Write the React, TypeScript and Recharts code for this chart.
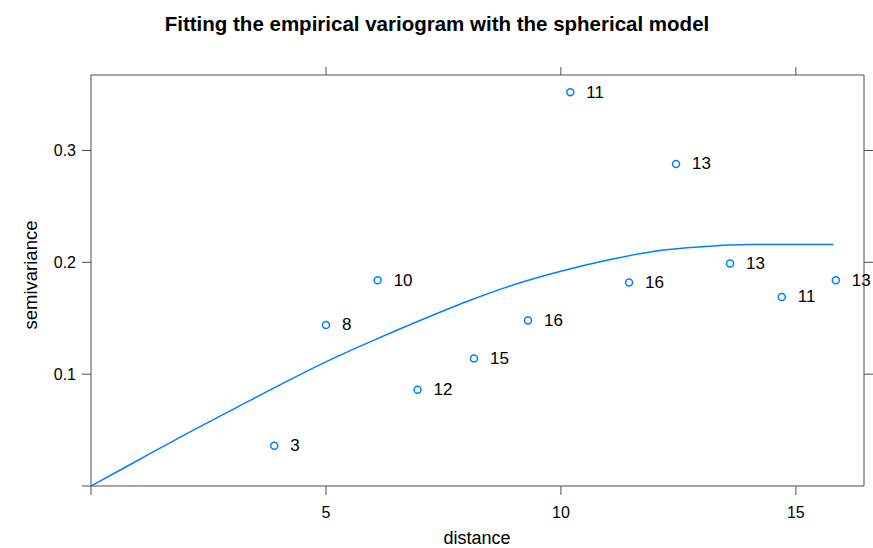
import React from "react";
import {
  ComposedChart,
  Scatter,
  Line,
  XAxis,
  YAxis,
  LabelList,
} from "recharts";

// empirical variogram: lag distance, semivariance, number of pairs
const lagDist = [3.9, 5.0, 6.1, 6.95, 8.15, 9.3, 10.2, 11.45, 12.45, 13.6, 14.7, 15.85];
const lagGamma = [0.036, 0.144, 0.184, 0.086, 0.114, 0.148, 0.352, 0.182, 0.288, 0.199, 0.169, 0.184];
const lagPairs = [3, 8, 10, 12, 15, 16, 11, 16, 13, 13, 11, 13];

// fitted spherical model
const modelDist = [0, 1, 2, 3, 4, 5, 6, 7, 8, 9, 10, 11, 12, 13, 14, 15.8];
const modelGamma = [0, 0.023, 0.046, 0.068, 0.09, 0.111, 0.13, 0.148, 0.165, 0.18, 0.192, 0.202, 0.21, 0.214, 0.216, 0.216];

const xTicks = [0, 5, 10, 15];
const xTopTicks = [5, 10, 15];
const yTicks = [0, 0.1, 0.2, 0.3];
const yRightTicks = [0.1, 0.2, 0.3];

const points = lagDist.map((d, i) => ({ dist: d, gamma: lagGamma[i], np: lagPairs[i] }));
const model = modelDist.map((d, i) => ({ dist: d, gamma: modelGamma[i] }));

const BLUE = "#0080ff";
const AXIS = "#4d4d4d";
const FONT = "'Liberation Sans', Arial, sans-serif";

const OpenCircle = (props: any) => (
  <circle cx={props.cx} cy={props.cy} r={3.5} fill="none" stroke={BLUE} strokeWidth={1.5} />
);

const PairLabel = (props: any) => (
  <text
    x={props.x + props.width / 2 + 16}
    y={props.y + props.height / 2}
    dominantBaseline="central"
    fontSize={17}
    fontFamily={FONT}
    fill="#000"
  >
    {props.value}
  </text>
);

const noLabel = () => "";

export default function App() {
  return (
    <div style={{ position: "absolute", left: 0, top: 0, width: 873, height: 548, background: "#fff", fontFamily: FONT }}>
      <ComposedChart
        width={873}
        height={548}
        margin={{ top: 67, right: 0, bottom: 0, left: 41 }}
      >
        <XAxis
          xAxisId="b"
          type="number"
          dataKey="dist"
          domain={[0, 16.45]}
          ticks={xTicks}
          tickFormatter={(v) => (v === 0 ? "" : String(v))}
          height={62}
          tickSize={9}
          tickMargin={12}
          stroke={AXIS}
          tick={{ fill: "#000", fontSize: 16, fontFamily: FONT }}
          style={{ fontSize: 16 }}
          allowDataOverflow
        />
        <XAxis
          xAxisId="t"
          orientation="top"
          type="number"
          dataKey="dist"
          domain={[0, 16.45]}
          ticks={xTopTicks}
          tickFormatter={noLabel}
          height={8}
          tickSize={8}
          stroke={AXIS}
          allowDataOverflow
        />
        <YAxis
          yAxisId="l"
          type="number"
          dataKey="gamma"
          domain={[0, 0.3675]}
          ticks={yTicks}
          tickFormatter={(v) => (v === 0 ? "" : String(v))}
          width={50}
          tickSize={9}
          tickMargin={6}
          stroke={AXIS}
          tick={{ fill: "#000", fontSize: 16, fontFamily: FONT }}
          style={{ fontSize: 16 }}
          allowDataOverflow
        />
        <YAxis
          yAxisId="r"
          orientation="right"
          type="number"
          domain={[0, 0.3675]}
          ticks={yRightTicks}
          tickFormatter={noLabel}
          width={9}
          tickSize={9}
          stroke={AXIS}
          allowDataOverflow
        />
        <Line
          xAxisId="b"
          yAxisId="l"
          data={model}
          dataKey="gamma"
          type="monotone"
          stroke={BLUE}
          strokeWidth={1.5}
          dot={false}
          isAnimationActive={false}
        />
        <Scatter
          xAxisId="b"
          yAxisId="l"
          data={points}
          dataKey="gamma"
          shape={<OpenCircle />}
          isAnimationActive={false}
        >
          <LabelList dataKey="np" content={<PairLabel />} />
        </Scatter>
      </ComposedChart>
      <svg
        width={873}
        height={548}
        style={{ position: "absolute", left: 0, top: 0, pointerEvents: "none" }}
        fontFamily={FONT}
      >
        <text x={437} y={31} textAnchor="middle" fontWeight="bold" fontSize={20.5} fill="#000">
          Fitting the empirical variogram with the spherical model
        </text>
        <text x={477} y={544} textAnchor="middle" fontSize={18} fill="#000">
          distance
        </text>
        <text
          x={30}
          y={275}
          textAnchor="middle"
          dominantBaseline="central"
          fontSize={18.5}
          fill="#000"
          transform="rotate(-90 30 275)"
        >
          semivariance
        </text>
      </svg>
    </div>
  );
}
